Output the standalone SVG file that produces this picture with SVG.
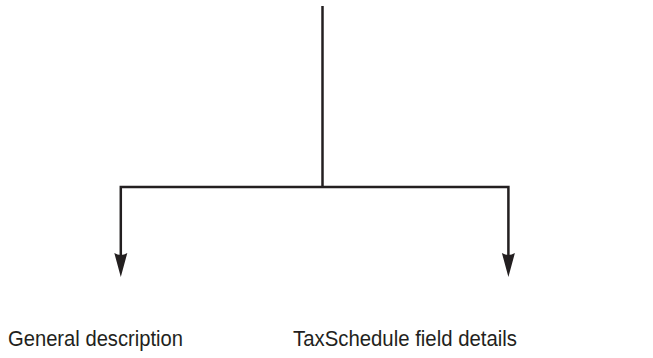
<svg xmlns="http://www.w3.org/2000/svg" width="653" height="358" viewBox="0 0 653 358">
<style>
.ln{fill:none;stroke:#231f20;stroke-width:2.5;stroke-linecap:butt;stroke-linejoin:miter}
.ah{fill:#231f20}
.lbl{font-family:"Liberation Sans",Arial,sans-serif;font-size:22.5px;fill:#231f20}
</style>
<defs>
<path id="head" d="M0,0 L-6.5,-24 Q0,-20 6.5,-24 Z"/>
</defs>
<g id="connectors">
<path class="ln" d="M322.5,6 V187"/>
<path class="ln" d="M120.8,256 V187 H508.4 V256"/>
<use href="#head" class="ah" x="120.8" y="277"/>
<use href="#head" class="ah" x="508.4" y="277"/>
</g>
<g id="node-general">
<text class="lbl" x="8" y="345.5" textLength="175" lengthAdjust="spacingAndGlyphs">General description</text>
</g>
<g id="node-taxschedule">
<text class="lbl" x="293" y="345.5" textLength="224" lengthAdjust="spacingAndGlyphs">TaxSchedule field details</text>
</g>
</svg>
